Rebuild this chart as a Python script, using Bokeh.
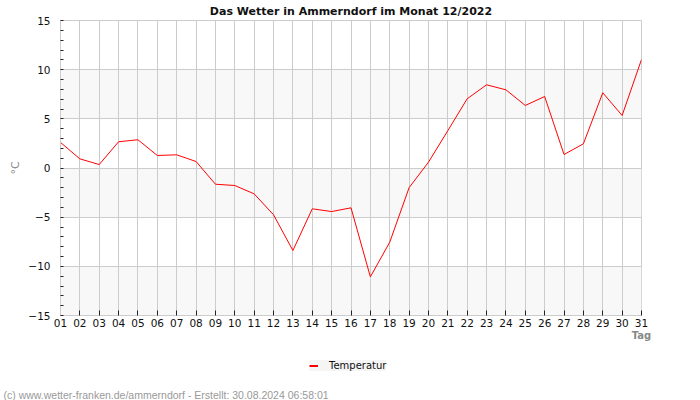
from bokeh.plotting import figure
from bokeh.layouts import column
from bokeh.models import (FixedTicker, Range1d, BoxAnnotation, Legend, LegendItem, Title)
from bokeh.embed import file_html
from bokeh.resources import INLINE

TITLE = "Das Wetter in Ammerndorf im Monat 12/2022"
days = list(range(1, 32))
day_labels = ["%02d" % d for d in days]
temperature = [2.6, 0.93, 0.35, 2.67, 2.87, 1.27, 1.34, 0.66, -1.65, -1.78,
               -2.63, -4.76, -8.39, -4.15, -4.43, -4.05, -11.07, -7.55, -2.0, 0.59,
               3.8, 7.04, 8.46, 7.95, 6.36, 7.27, 1.37, 2.46, 7.65, 5.34, 11.04]
y_ticks = [-15, -10, -5, 0, 5, 10, 15]
y_minor = list(range(-15, 16))
series_name = "Temperatur"
y_label = "°C"
x_label = "Tag"
footer = "(c) www.wetter-franken.de/ammerndorf - Erstellt: 30.08.2024 06:58:01"

FONT = "DejaVu Sans"
GRID = "#cccccc"

p = figure(frame_width=581, frame_height=295,
           output_backend="svg", toolbar_location=None,
           x_range=Range1d(days[0], days[-1]), y_range=Range1d(y_ticks[0], y_ticks[-1]),
           min_border_left=60, min_border_right=59, min_border_top=20, min_border_bottom=30)
p.background_fill_color = "white"
p.border_fill_color = "white"
p.outline_line_color = GRID

p.title.text = TITLE
p.title.align = "center"
p.title.text_font = FONT
p.title.text_font_size = "11px"
p.title.text_font_style = "bold"
p.title.text_color = "#111111"
p.title.standoff = 5

# alternating bands
for i in range(len(y_ticks) - 1):
    if i % 2 == 0:
        p.add_layout(BoxAnnotation(bottom=y_ticks[i], top=y_ticks[i + 1],
                                   fill_color="#f8f8f8", fill_alpha=1.0,
                                   line_color=None, level="image"))

p.xaxis.ticker = FixedTicker(ticks=days)
p.xaxis.major_label_overrides = {d: l for d, l in zip(days, day_labels)}
p.yaxis.ticker = FixedTicker(ticks=y_ticks, minor_ticks=y_minor)

for ax in (p.xaxis, p.yaxis):
    ax.axis_line_color = GRID
    ax.major_tick_out = 0
    ax.minor_tick_out = 0
    ax.major_label_text_font = FONT
    ax.major_label_text_font_size = "10.5px"
    ax.major_label_text_color = "#111111"
    ax.major_tick_line_color = "#222222"
    ax.minor_tick_line_color = "#222222"
    ax.axis_label_text_font = FONT
    ax.axis_label_text_color = "#888888"
p.xaxis.major_tick_in = 5
p.xaxis.minor_tick_in = 0
p.xaxis.major_label_standoff = 3
p.xaxis.axis_label = x_label
p.xaxis.axis_label_align = "end"
p.xaxis.axis_label_standoff = 0
p.xaxis.axis_label_text_font_size = "10px"
p.xaxis.axis_label_text_font_style = "bold"
p.yaxis.major_tick_in = 0
p.yaxis.minor_tick_in = 3
p.yaxis.major_label_standoff = 10
p.yaxis.axis_label = y_label
p.yaxis.axis_label_standoff = 3
p.yaxis.axis_label_text_font_size = "11px"
p.yaxis.axis_label_text_font_style = "normal"

p.xgrid.grid_line_color = GRID
p.ygrid.grid_line_color = GRID

r = p.line(days, temperature, line_color="red", line_width=1)

# strip below the chart holding the legend and the credit line
p2 = figure(width=700, height=55, output_backend="svg", toolbar_location=None,
            x_axis_type=None, y_axis_type=None, min_border=0,
            x_range=Range1d(-100, -99), y_range=Range1d(-100, -99))
p2.grid.visible = False
p2.outline_line_color = None
p2.background_fill_color = "white"
p2.border_fill_color = "white"
r2 = p2.line(days, temperature, line_color="red", line_width=2)

legend = Legend(items=[LegendItem(label=series_name, renderers=[r2])],
                location=(249, 15), orientation="horizontal",
                background_fill_color="#f5f5f5", background_fill_alpha=1.0,
                border_line_color=None, label_text_font=FONT, label_text_font_size="10px",
                glyph_width=9, glyph_height=11, padding=5, label_standoff=11, margin=0,
                label_text_color="#111111")
p2.add_layout(legend, "center")

p2.add_layout(Title(text=footer, align="left", offset=-57, standoff=0,
                    text_font="Liberation Sans", text_font_size="10.5px",
                    text_font_style="normal", text_color="#999999"), "below")

layout = column(p, p2, spacing=0)
open("out.html", "w").write(file_html(layout, INLINE))
